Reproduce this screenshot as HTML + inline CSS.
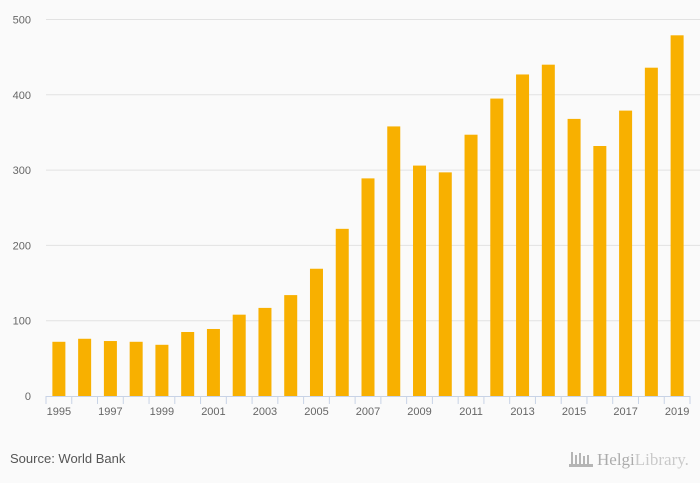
<!DOCTYPE html>
<html><head><meta charset="utf-8"><style>
html,body{margin:0;padding:0;background:#fafafa;}
svg{display:block;font-family:"Liberation Sans",sans-serif;}
</style></head><body>
<svg width="700" height="483" viewBox="0 0 700 483">
<rect x="0" y="0" width="700" height="483" fill="#fafafa"/>
<g id="grid"></g>
<g id="yticks"></g>
<g id="bars"></g>
<g id="xaxis"></g>
<text x="10" y="463" font-size="13" fill="#555">Source: World Bank</text>
<g opacity="0.6">
<g fill="#888"><rect x="571" y="452" width="2" height="14"/><rect x="575" y="455" width="2" height="11"/><rect x="579" y="453" width="2" height="13"/><rect x="583" y="456" width="2" height="10"/><rect x="587" y="455" width="2" height="11"/><rect x="569" y="464" width="24" height="3"/></g>
<text x="597" y="465" font-size="17" fill="#777" font-family="Liberation Serif,serif">Helgi<tspan fill="#aaa">Library.</tspan></text>
</g>
</svg>
<script>
const years=["1995","1996","1997","1998","1999","2000","2001","2002","2003","2004","2005","2006","2007","2008","2009","2010","2011","2012","2013","2014","2015","2016","2017","2018","2019"];
const values=[72,76,73,72,68,85,89,108,117,134,169,222,289,358,306,297,347,395,427,440,368,332,379,436,479];
const yTicks=[0,100,200,300,400,500];
const NS="http://www.w3.org/2000/svg";
const x0=46,x1=690,yBase=396,yTop=19.5,yMax=500;
const step=(x1-x0)/years.length;
const yScale=v=>yBase-(v/yMax)*(yBase-yTop);
const xScale=i=>x0+step*i+step/2;
function mk(tag,attrs,parent){const e=document.createElementNS(NS,tag);for(const k in attrs)e.setAttribute(k,attrs[k]);parent.appendChild(e);return e;}
const grid=document.getElementById('grid'),yt=document.getElementById('yticks'),bars=document.getElementById('bars'),xa=document.getElementById('xaxis');
yTicks.forEach(t=>{
 const y=yScale(t);
 if(t>0){const l=mk('line',{x1:x0,x2:700,y1:y,y2:y,stroke:'#e2e2e2','stroke-width':1},grid);
 
 }
 const tx=mk('text',{x:31,y:y+4,'font-size':11,fill:'#666','text-anchor':'end'},yt);
 tx.textContent=t;
 
 
});
values.forEach((v,i)=>{
 const y=yScale(v);
 const r=mk('rect',{x:xScale(i)-6.5,y:y,width:13,height:yBase-y,fill:'#f8b000'},bars);
 
 
});
const ax=mk('line',{x1:x0,x2:x1,y1:yBase+0.5,y2:yBase+0.5,stroke:'#c8d3e6','stroke-width':1},xa);


for(let i=0;i<=years.length;i++){
 const x=x0+step*i;
 const tk=mk('line',{x1:x,x2:x,y1:yBase,y2:yBase+8,stroke:'#c8d3e6','stroke-width':1},xa);
 
 
}
years.forEach((yr,i)=>{
 if(i%2)return;
 const t=mk('text',{x:xScale(i),y:415,'font-size':11,fill:'#666','text-anchor':'middle'},xa);
 t.textContent=yr;
 
 
});
</script>
</body></html>
